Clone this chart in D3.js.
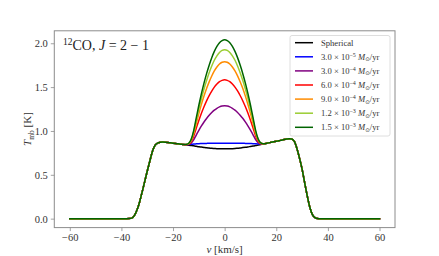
<!DOCTYPE html>
<html><head><meta charset="utf-8">
<script src="https://cdn.jsdelivr.net/npm/d3@7/dist/d3.min.js"></script>
<style>body{margin:0;background:#fff} svg{display:block}</style>
</head><body><svg id="c" width="439" height="256"></svg>
<script>
// ---------- data ----------
const outerLeftV  = [-60,-50,-40,-38,-37,-36,-35,-34,-33,-32,-31,-30,-29,-28,-27,-26,-25,-24,-23,-22,-21,-20,-19,-18,-17];
const outerLeftT  = [0,0,0,0,0.001,0.006,0.035,0.095,0.185,0.30,0.42,0.54,0.655,0.765,0.835,0.862,0.870,0.873,0.872,0.869,0.865,0.861,0.857,0.853,0.849];
const outerRightV = [17,18,19,20,21,22,23,24,25,26,27,28,29,30,31,32,33,34,35,36,37,38,40,50,60];
const outerRightT = [0.864,0.870,0.876,0.882,0.888,0.895,0.902,0.908,0.912,0.908,0.88,0.80,0.69,0.565,0.41,0.26,0.13,0.045,0.012,0.002,0,0,0,0,0];
const innerV = [-16,-15,-14,-13,-12,-11,-10,-9,-8,-7,-6,-5,-4,-3,-2,-1,0,1,2,3,4,5,6,7,8,9,10,11,12,13,14,15,16];

const sphericalInner = [0.845,0.842,0.838,0.834,0.830,0.825,0.820,0.816,0.812,0.808,0.805,0.802,0.800,0.798,0.797,0.796,0.796,0.796,0.797,0.798,0.800,0.803,0.806,0.810,0.814,0.818,0.823,0.828,0.833,0.839,0.845,0.851,0.858];
const blueInner   = [0.845,0.845,0.846,0.848,0.851,0.853,0.855,0.856,0.857,0.858,0.859,0.859,0.860,0.860,0.861,0.861,0.861,0.861,0.861,0.861,0.860,0.860,0.859,0.859,0.858,0.857,0.856,0.855,0.853,0.852,0.852,0.854,0.858];
const purpleInner = [0.845,0.843,0.845,0.861,0.899,0.953,1.007,1.057,1.102,1.142,1.178,1.210,1.237,1.258,1.274,1.284,1.287,1.284,1.274,1.258,1.237,1.211,1.179,1.144,1.104,1.059,1.010,0.956,0.902,0.866,0.852,0.852,0.858];
const redInner    = [0.845,0.844,0.850,0.877,0.940,1.030,1.119,1.202,1.276,1.343,1.403,1.455,1.500,1.535,1.562,1.577,1.583,1.577,1.562,1.535,1.500,1.456,1.404,1.345,1.278,1.204,1.122,1.033,0.943,0.882,0.857,0.853,0.858];
const orangeInner = [0.845,0.845,0.853,0.889,0.969,1.083,1.198,1.303,1.398,1.484,1.560,1.627,1.685,1.729,1.763,1.783,1.790,1.783,1.763,1.729,1.685,1.628,1.561,1.486,1.400,1.305,1.201,1.086,0.972,0.894,0.860,0.854,0.858];
const lgreenInner = [0.845,0.845,0.855,0.896,0.988,1.119,1.249,1.370,1.479,1.576,1.664,1.740,1.806,1.857,1.895,1.918,1.926,1.918,1.895,1.857,1.806,1.741,1.665,1.578,1.481,1.372,1.252,1.122,0.991,0.901,0.862,0.854,0.858];
const dgreenInner = [0.845,0.846,0.857,0.902,1.004,1.148,1.293,1.426,1.546,1.654,1.750,1.835,1.907,1.964,2.006,2.031,2.040,2.031,2.006,1.964,1.907,1.836,1.751,1.656,1.548,1.428,1.296,1.151,1.007,0.907,0.864,0.855,0.858];

const seriesNames  = ["Spherical","3.0e-5","3.0e-4","6.0e-4","9.0e-4","1.2e-3","1.5e-3"];
const seriesInner  = [sphericalInner, blueInner, purpleInner, redInner, orangeInner, lgreenInner, dgreenInner];
const seriesColors = ["#000000","#0000ff","#800080","#ff0000","#ff8c00","#9acd32","#006400"];
const legendMantissa = [null,"3.0","3.0","6.0","9.0","1.2","1.5"];
const legendExponent = [null,"−5","−4","−4","−4","−3","−3"];

const xTicks = [-60,-40,-20,0,20,40,60];
const yTicks = [0.0,0.5,1.0,1.5,2.0];

// ---------- chart ----------
const svg = d3.select("#c");
const x = d3.scaleLinear([-66,66],[54.3,395]);
const y = d3.scaleLinear([-0.102,2.142],[227.6,30.8]);
const FONT = "'Liberation Serif','DejaVu Serif',serif";

function fullSeries(inner){
  const pts = [];
  outerLeftV.forEach((v,i)=>pts.push([v,outerLeftT[i]]));
  innerV.forEach((v,i)=>pts.push([v,inner[i]]));
  outerRightV.forEach((v,i)=>pts.push([v,outerRightT[i]]));
  return pts;
}
const line = d3.line().x(d=>x(d[0])).y(d=>y(d[1])).curve(d3.curveMonotoneX);

svg.append("clipPath").attr("id","pa").append("rect")
  .attr("x",54.3).attr("y",30.8).attr("width",395-54.3).attr("height",227.6-30.8);

const gl = svg.append("g").attr("clip-path","url(#pa)");
seriesInner.forEach((inner,i)=>{
  gl.append("path").attr("d",line(fullSeries(inner)))
    .attr("fill","none").attr("stroke",seriesColors[i]).attr("stroke-width",1.5)
    .attr("stroke-linejoin","round").attr("stroke-linecap","square");
});

// spines
const spineColor = "#8c8c8c";
svg.append("rect").attr("x",54.3).attr("y",30.8).attr("width",395-54.3).attr("height",227.6-30.8)
  .attr("fill","none").attr("stroke",spineColor).attr("stroke-width",1);

// axes
const xAxis = d3.axisBottom(x).tickValues(xTicks).tickSize(3.5).tickPadding(2)
  .tickFormat(d=> d<0 ? "−"+Math.abs(d) : String(d));
const gx = svg.append("g").attr("transform","translate(0,227.6)").call(xAxis);
const yAxis = d3.axisLeft(y).tickValues(yTicks).tickSize(3.5).tickPadding(3)
  .tickFormat(d3.format(".1f"));
const gy = svg.append("g").attr("transform","translate(54.3,0)").call(yAxis);
[gx,gy].forEach(g=>{
  g.select(".domain").remove();
  g.selectAll(".tick line").attr("stroke",spineColor).attr("stroke-width",0.8);
  g.selectAll(".tick text").attr("fill","#333").style("font-family",FONT).style("font-size","10.5px");
});

// axis labels
const xl = svg.append("text").attr("x",224.6).attr("y",252.5).attr("text-anchor","middle")
  .style("font-family",FONT).style("font-size","11px").attr("fill","#333");
xl.append("tspan").attr("font-style","italic").text("v");
xl.append("tspan").text(" [km/s]");

const yl = svg.append("text").attr("transform","translate(31,129) rotate(-90)").attr("text-anchor","middle")
  .style("font-family",FONT).style("font-size","11px").attr("fill","#333");
yl.append("tspan").attr("font-style","italic").text("T");
yl.append("tspan").attr("dy",2.5).style("font-size","7.5px").text("mb");
yl.append("tspan").attr("dy",-2.5).text(" [K]");

// title
const tt = svg.append("text").attr("x",63).attr("y",49.5)
  .style("font-family",FONT).style("font-size","14px").attr("fill","#222");
tt.append("tspan").attr("dy",-5).style("font-size","9.5px").text("12");
tt.append("tspan").attr("dy",5).text("CO, ");
tt.append("tspan").attr("font-style","italic").text("J");
tt.append("tspan").text(" = 2 − 1");

// legend
const lg = svg.append("g");
lg.append("rect").attr("x",290).attr("y",35.5).attr("width",100).attr("height",100.5).attr("rx",2)
  .attr("fill","#fff").attr("fill-opacity",0.8).attr("stroke","#d6d6d6").attr("stroke-width",0.8);
seriesNames.forEach((nm,i)=>{
  const yy = 42.7 + 14.1*i;
  lg.append("line").attr("x1",295).attr("x2",313).attr("y1",yy).attr("y2",yy)
    .attr("stroke",seriesColors[i]).attr("stroke-width",1.5);
  const t = lg.append("text").attr("x",321).attr("y",yy+3)
    .style("font-family",FONT).style("font-size","8.6px").attr("fill","#333");
  if(i===0){ t.text(nm); return; }
  t.append("tspan").text(legendMantissa[i]+" × 10");
  t.append("tspan").attr("dy",-3.2).style("font-size","6px").text(legendExponent[i]);
  t.append("tspan").attr("dy",3.2).text(" ");
  t.append("tspan").attr("font-style","italic").text("M");
  t.append("tspan").attr("dy",1.5).style("font-size","5.5px").style("font-family","'DejaVu Sans',sans-serif").text("⊙");
  t.append("tspan").attr("dy",-1.5).text("/yr");
});
</script></body></html>
